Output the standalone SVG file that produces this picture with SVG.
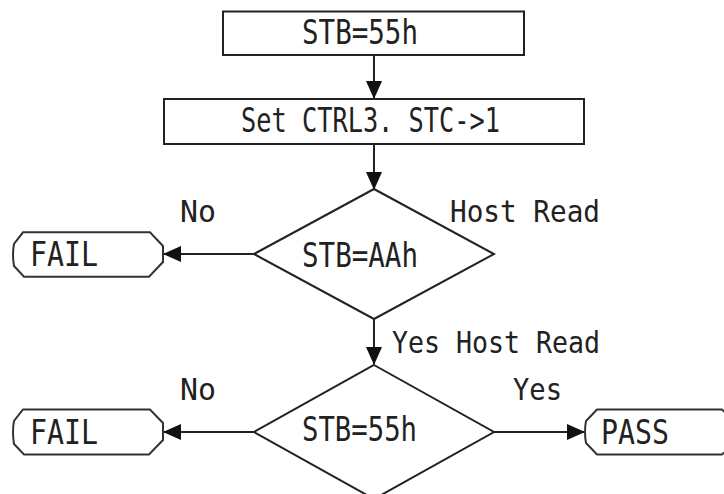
<svg xmlns="http://www.w3.org/2000/svg" width="724" height="494" viewBox="0 0 724 494">
<style>
.shape{fill:#ffffff;stroke:#222222;stroke-width:2}
.term{fill:#ffffff;stroke:#333333;stroke-width:2}
.conn{fill:none;stroke:#222222;stroke-width:2}
.t{font-family:"DejaVu Sans Mono","Liberation Mono",monospace;font-size:33px;fill:#222222}
.lbl{font-family:"DejaVu Sans Mono","Liberation Mono",monospace;font-size:30px;fill:#222222}
</style>
<defs>
<marker id="ah" markerUnits="userSpaceOnUse" markerWidth="18" markerHeight="16" refX="17" refY="8" orient="auto">
<path d="M0,0 L18,8 L0,16 Z" fill="#111111"/>
</marker>
</defs>
<rect width="724" height="494" fill="#ffffff"/>
<g id="connectors">
<line class="conn" x1="374" y1="55" x2="374" y2="98" marker-end="url(#ah)"/>
<line class="conn" x1="374" y1="144" x2="374" y2="189" marker-end="url(#ah)"/>
<line class="conn" x1="254" y1="254" x2="164" y2="254" marker-end="url(#ah)"/>
<line class="conn" x1="374" y1="319" x2="374" y2="364" marker-end="url(#ah)"/>
<line class="conn" x1="254" y1="432" x2="164" y2="432" marker-end="url(#ah)"/>
<line class="conn" x1="494" y1="432" x2="584" y2="432" marker-end="url(#ah)"/>
<text class="lbl" x="180" y="222" textLength="36" lengthAdjust="spacingAndGlyphs">No</text>
<text class="lbl" x="450" y="222" textLength="150" lengthAdjust="spacingAndGlyphs">Host Read</text>
<text class="lbl" x="392" y="353" textLength="208" lengthAdjust="spacingAndGlyphs">Yes Host Read</text>
<text class="lbl" x="180" y="400" textLength="36" lengthAdjust="spacingAndGlyphs">No</text>
<text class="lbl" x="513" y="400" textLength="49" lengthAdjust="spacingAndGlyphs">Yes</text>
</g>
<g id="n_stb55">
<rect class="shape" x="223" y="11.5" width="301" height="43.5"/>
<text class="t" x="302" y="44" textLength="116" lengthAdjust="spacingAndGlyphs">STB=55h</text>
</g>
<g id="n_setctrl">
<rect class="shape" x="164" y="99" width="420" height="45"/>
<text class="t" x="241" y="132" textLength="259" lengthAdjust="spacingAndGlyphs">Set CTRL3. STC-&gt;1</text>
</g>
<g id="d_stbaa">
<polygon class="shape" points="374,189 494,254 374,319 254,254"/>
<text class="t" x="302" y="266.5" textLength="116" lengthAdjust="spacingAndGlyphs">STB=AAh</text>
</g>
<g id="t_fail1">
<path class="term" d="M23,232.3 H150 L163,246 V262 L149,276.7 H24 L14,266 Q12,254.5 14,244 Z"/>
<text class="t" x="30" y="266" textLength="68" lengthAdjust="spacingAndGlyphs">FAIL</text>
</g>
<g id="d_stb55">
<polygon class="shape" points="374,365 494,432 374,499 254,432"/>
<text class="t" x="302" y="440.5" textLength="115" lengthAdjust="spacingAndGlyphs">STB=55h</text>
</g>
<g id="t_fail2">
<path class="term" d="M23,409.5 H150 L163,423 V440 L149,454.5 H24 L14,444 Q12,432 14,421 Z"/>
<text class="t" x="30" y="443.5" textLength="68" lengthAdjust="spacingAndGlyphs">FAIL</text>
</g>
<g id="t_pass">
<path class="term" d="M597,409.5 H722 L734,421 V444 L722,454.5 H597 L586,443 Q584,432 586,421 Z"/>
<text class="t" x="601" y="443.5" textLength="68" lengthAdjust="spacingAndGlyphs">PASS</text>
</g>
</svg>
